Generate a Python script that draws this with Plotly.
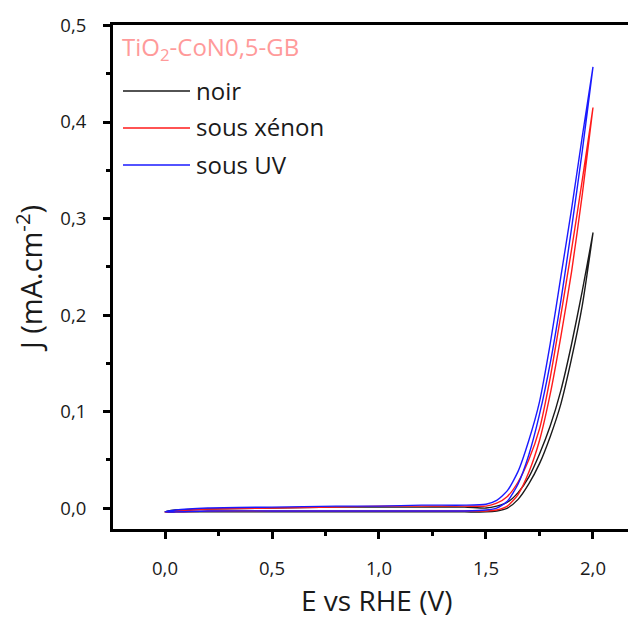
import plotly.graph_objects as go

# Potential grid (V vs RHE) for forward scan; backward scan uses the reversed grid
E_fwd = [0.00, 0.05, 0.20, 0.50, 0.80, 1.00, 1.20, 1.40, 1.50, 1.55, 1.60, 1.65,
         1.70, 1.75, 1.80, 1.85, 1.90, 1.95, 2.00]
E_bwd = E_fwd[::-1]

# Current density (mA.cm-2)
J_noir_fwd = [-0.004, -0.002, -0.001, 0.000, 0.001, 0.001, 0.001, 0.001, 0.000, 0.002, 0.006, 0.016,
              0.032, 0.056, 0.085, 0.122, 0.170, 0.225, 0.285]
J_noir_bwd = [0.285, 0.210, 0.155, 0.108, 0.074, 0.046, 0.025, 0.009, 0.000, -0.003, -0.004, -0.004,
              -0.004, -0.004, -0.004, -0.004, -0.004, -0.004, -0.004]

J_xenon_fwd = [-0.004, -0.003, -0.001, 0.000, 0.001, 0.002, 0.002, 0.002, 0.002, 0.005, 0.012, 0.027,
               0.050, 0.082, 0.135, 0.200, 0.268, 0.340, 0.415]
J_xenon_bwd = [0.415, 0.325, 0.245, 0.178, 0.118, 0.070, 0.037, 0.014, 0.002, -0.002, -0.003, -0.003,
               -0.003, -0.003, -0.003, -0.003, -0.003, -0.004, -0.004]

J_uv_fwd = [-0.004, -0.002, 0.000, 0.001, 0.002, 0.002, 0.003, 0.003, 0.004, 0.008, 0.018, 0.038,
            0.070, 0.110, 0.170, 0.240, 0.310, 0.385, 0.457]
J_uv_bwd = [0.457, 0.370, 0.290, 0.215, 0.150, 0.097, 0.055, 0.025, 0.007, 0.000, -0.002, -0.003,
            -0.003, -0.003, -0.003, -0.003, -0.003, -0.004, -0.004]

series_names = ["noir", "sous xénon", "sous UV"]
series_colors = ["#1a1a1a", "#ff1a1a", "#1a1aff"]
legend_title = "TiO<sub>2</sub>-CoN0,5-GB"
x_title = "E vs RHE (V)"
y_title = "J (mA.cm<sup>-2</sup>)"

x_ticks = [0.0, 0.5, 1.0, 1.5, 2.0]
y_ticks = [0.0, 0.1, 0.2, 0.3, 0.4, 0.5]

data = [(J_noir_fwd, J_noir_bwd), (J_xenon_fwd, J_xenon_bwd), (J_uv_fwd, J_uv_bwd)]

FONT = "Open Sans"
fig = go.Figure()
for (jf, jb), name, col in zip(data, series_names, series_colors):
    fig.add_trace(go.Scatter(
        x=E_fwd + E_bwd, y=jf + jb, mode="lines", name=name,
        line=dict(color=col, width=1.4, shape="spline", smoothing=0.6),
        showlegend=False))

# page body has an 8px margin; figure is sized so it ends at the window edge
OFF = 8
W, H = 636 - OFF, 619 - OFF
L, R, T = 113 - OFF, 0, 25 - OFF
B = H - (529 - OFF)
fig.update_layout(
    width=W, height=H,
    margin=dict(l=L, r=R, t=T, b=B),
    paper_bgcolor="white", plot_bgcolor="white",
    separators=", ",
    font=dict(family=FONT, color="#1a1a1a"),
    xaxis=dict(
        range=[-0.243, 2.201], showgrid=False, zeroline=False,
        showline=True, linecolor="black", linewidth=3, mirror=True,
        ticks="outside", ticklen=7, tickwidth=3, tickcolor="black",
        tickvals=x_ticks, tickformat=".1f",
        tickfont=dict(size=18.5, family=FONT, color="#1a1a1a"),
        ticklabelstandoff=14,
        minor=dict(ticks="outside", ticklen=4, tickwidth=3, tickcolor="black", dtick=0.25, tick0=0),
    ),
    yaxis=dict(
        range=[-0.0217, 0.5005], showgrid=False, zeroline=False,
        showline=True, linecolor="black", linewidth=3, mirror=False,
        ticks="outside", ticklen=7, tickwidth=3, tickcolor="black",
        tickvals=y_ticks, tickformat=".1f",
        tickfont=dict(size=18.5, family=FONT, color="#1a1a1a"),
        ticklabelstandoff=13,
        minor=dict(ticks="outside", ticklen=4, tickwidth=3, tickcolor="black", dtick=0.05, tick0=0),
        title=dict(text=y_title, font=dict(size=29, family=FONT, color="#1a1a1a"), standoff=12),
    ),
)

# Positions given in reference-window pixels, converted to paper coordinates
pw, ph = W - L - R, H - T - B
def px(x):
    return (x - OFF - L) / pw
def py(y):
    return 1 - (y - OFF - T) / ph

fig.add_annotation(x=px(376), y=py(600), xref="paper", yref="paper", text=x_title,
                   showarrow=False, xanchor="center", yanchor="middle",
                   font=dict(size=28, family=FONT, color="#1a1a1a"))

fig.add_annotation(x=px(120), y=py(48), xref="paper", yref="paper", text=legend_title,
                   showarrow=False, xanchor="left", yanchor="middle",
                   font=dict(size=24, family=FONT, color="#ff9a9a"))
for i, (name, col) in enumerate(zip(series_names, series_colors)):
    yy = 91 + i * 37
    fig.add_shape(type="line", xref="paper", yref="paper",
                  x0=px(123), x1=px(190), y0=py(yy), y1=py(yy),
                  line=dict(color=col, width=1.4))
    fig.add_annotation(x=px(194), y=py(yy - 1), xref="paper", yref="paper", text=name,
                       showarrow=False, xanchor="left", yanchor="middle",
                       font=dict(size=24, family=FONT, color="#1a1a1a"))

fig.write_html("out.html")
